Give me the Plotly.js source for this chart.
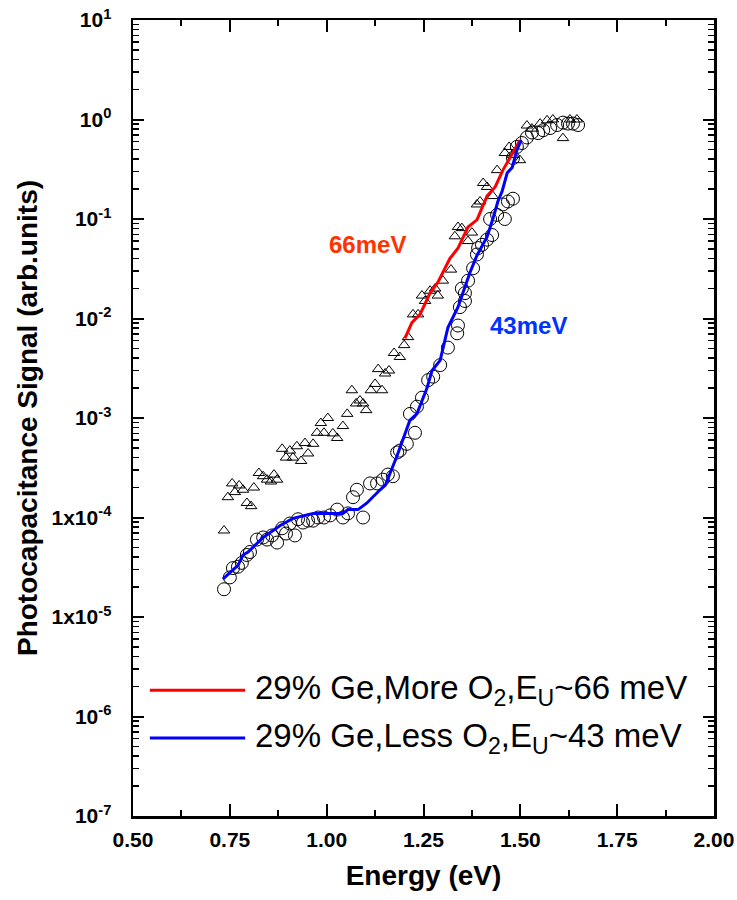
<!DOCTYPE html>
<html>
<head>
<meta charset="utf-8">
<script src="https://cdn.plot.ly/plotly-3.0.1.min.js"></script>
<style>html,body{margin:0;padding:0;background:#fff;}#chart{width:737px;height:900px;}</style>
</head>
<body>
<div id="chart"></div>
<script>
// More O2 sample (triangles)
const moreE = [0.735,0.745,0.756,0.763,0.774,0.784,0.794,0.805,0.812,0.825,0.836,0.846,0.856,0.864,0.872,0.885,0.895,0.905,0.913,0.923,0.934,0.944,0.952,0.965,0.975,0.985,0.993,1.003,1.016,1.027,1.042,1.053,1.065,1.076,1.086,1.094,1.102,1.114,1.125,1.133,1.143,1.151,1.161,1.174,1.189,1.200,1.210,1.223,1.236,1.246,1.254,1.267,1.280,1.287,1.300,1.321,1.331,1.339,1.349,1.365,1.375,1.388,1.396,1.404,1.414,1.429,1.440,1.460,1.471,1.481,1.499,1.517,1.530,1.551,1.569,1.584,1.610,1.628,1.646];
const moreV = [7.4e-5,1.6e-4,2.2e-4,1.8e-4,2.1e-4,1.9e-4,1.4e-4,1.3e-4,2.0e-4,2.8e-4,2.6e-4,2.4e-4,2.3e-4,2.7e-4,2.4e-4,4.9e-4,4.0e-4,4.7e-4,4.0e-4,5.2e-4,3.7e-4,5.6e-4,4.4e-4,5.5e-4,7.1e-4,8.9e-4,7.1e-4,1.0e-3,7.0e-4,6.3e-4,8.3e-4,1.1e-3,1.9e-3,1.4e-3,1.5e-3,1.4e-3,1.2e-3,1.9e-3,2.2e-3,3.1e-3,1.9e-3,2.8e-3,3.0e-3,4.5e-3,4.1e-3,5.4e-3,6.5e-3,1.1e-2,1.1e-2,1.7e-2,1.5e-2,1.9e-2,2.0e-2,1.7e-2,2.4e-2,3.1e-2,6.7e-2,8.3e-2,8.1e-2,6.0e-2,7.3e-2,1.4e-1,1.5e-1,2.3e-1,2.1e-1,1.7e-1,3.1e-1,4.6e-1,5.3e-1,4.4e-1,3.9e-1,8.7e-1,8.1e-1,9.1e-1,9.8e-1,1.0,6.5e-1,1.0,1.0];

// Less O2 sample (circles)
const lessE = [0.735,0.750,0.758,0.771,0.781,0.794,0.802,0.820,0.836,0.846,0.859,0.872,0.885,0.895,0.905,0.918,0.926,0.939,0.952,0.965,0.978,0.993,1.009,1.027,1.042,1.055,1.068,1.078,1.094,1.112,1.130,1.145,1.158,1.171,1.182,1.189,1.207,1.215,1.228,1.233,1.246,1.262,1.275,1.293,1.313,1.337,1.339,1.344,1.349,1.357,1.357,1.365,1.378,1.388,1.391,1.401,1.414,1.422,1.427,1.440,1.455,1.460,1.468,1.481,1.481,1.491,1.504,1.517,1.530,1.546,1.559,1.577,1.595,1.610,1.623,1.636,1.649];
const lessV = [1.9e-5,2.5e-5,3.1e-5,3.2e-5,3.5e-5,4.2e-5,4.5e-5,6.0e-5,6.3e-5,6.0e-5,6.6e-5,5.6e-5,7.8e-5,6.9e-5,8.7e-5,6.6e-5,9.6e-5,8.9e-5,9.3e-5,9.3e-5,1.0e-4,1.0e-4,1.05e-4,1.2e-4,1.0e-4,1.1e-4,1.6e-4,1.9e-4,1.0e-4,2.2e-4,2.2e-4,2.4e-4,2.7e-4,2.6e-4,4.5e-4,4.7e-4,5.5e-4,1.1e-3,7.1e-4,1.3e-3,1.6e-3,2.4e-3,2.6e-3,3.4e-3,5.1e-3,7.1e-3,8.5e-3,1.3e-2,2.0e-2,1.5e-2,1.8e-2,2.4e-2,3.2e-2,4.4e-2,5.1e-2,5.5e-2,6.2e-2,1.0e-1,6.9e-2,1.1e-1,1.4e-1,1.0e-1,1.5e-1,1.6e-1,4.1e-1,5.3e-1,5.8e-1,6.6e-1,7.4e-1,7.3e-1,7.8e-1,8.2e-1,8.8e-1,9.3e-1,9.1e-1,9.1e-1,8.8e-1];

// Fit curves
const redFitE = [1.202,1.220,1.241,1.267,1.287,1.318,1.339,1.365,1.388,1.414,1.435,1.455,1.473,1.499];
const redFitV = [6.3e-3,9.1e-3,1.1e-2,1.8e-2,2.3e-2,4.0e-2,5.1e-2,8.3e-2,9.8e-2,1.7e-1,2.1e-1,3.1e-1,4.1e-1,6.2e-1];
const blueFitE = [0.732,0.750,0.771,0.784,0.797,0.836,0.880,0.913,0.965,1.042,1.055,1.081,1.104,1.138,1.151,1.164,1.182,1.215,1.233,1.259,1.272,1.293,1.313,1.339,1.370,1.388,1.414,1.429,1.442,1.453,1.466,1.479,1.491,1.502];
const blueFitV = [2.4e-5,2.8e-5,3.3e-5,4.2e-5,4.5e-5,6.3e-5,8.3e-5,9.8e-5,1.1e-4,1.1e-4,1.2e-4,1.2e-4,1.4e-4,1.9e-4,2.1e-4,2.8e-4,4.2e-4,9.5e-4,1.1e-3,2.0e-3,3.0e-3,3.8e-3,8.1e-3,1.3e-2,2.9e-2,4.3e-2,6.6e-2,1.0e-1,1.5e-1,1.9e-1,2.9e-1,3.3e-1,4.9e-1,6.2e-1];

const yTickVals = [1e1,1e0,1e-1,1e-2,1e-3,1e-4,1e-5,1e-6,1e-7];
const yTickText = ['10<sup>1</sup>','10<sup>0</sup>','10<sup>-1</sup>','10<sup>-2</sup>','10<sup>-3</sup>','1x10<sup>-4</sup>','1x10<sup>-5</sup>','10<sup>-6</sup>','10<sup>-7</sup>'];
const legendNames = ['29% Ge,More O<sub>2</sub>,E<sub>U</sub>~66 meV','29% Ge,Less O<sub>2</sub>,E<sub>U</sub>~43 meV'];

const F = '"Liberation Sans", Arial, sans-serif';

const traces = [
  {x: moreE, y: moreV, mode:'markers', type:'scatter', showlegend:false,
   marker:{symbol:'triangle-up-open', size:10, color:'#000', line:{width:1, color:'#000'}}},
  {x: lessE, y: lessV, mode:'markers', type:'scatter', showlegend:false,
   marker:{symbol:'circle-open', size:13, color:'#000', line:{width:1, color:'#000'}}},
  {x: redFitE, y: redFitV, mode:'lines', type:'scatter', name: legendNames[0], showlegend:false,
   line:{color:'#FF0000', width:3}},
  {x: blueFitE, y: blueFitV, mode:'lines', type:'scatter', name: legendNames[1], showlegend:false,
   line:{color:'#0000FF', width:3}}
];

const layout = {
  width:737, height:900,
  margin:{l:133, r:23, t:20, b:84},
  paper_bgcolor:'#fff', plot_bgcolor:'#fff',
  font:{family:F, color:'#000'},
  showlegend:false,
  xaxis:{
    range:[0.5,2.0], dtick:0.25, tick0:0.5, tickformat:'.2f',
    ticks:'inside', ticklen:12, tickwidth:2, tickcolor:'#000',
    showline:true, linewidth:2.5, linecolor:'#000', mirror:'ticks',
    showgrid:false, zeroline:false,
    minor:{dtick:0.125, ticks:'inside', ticklen:6, tickwidth:2, tickcolor:'#000', showgrid:false},
    tickfont:{family:F, size:21, weight:'bold'},
    ticklabelstandoff:3,
    title:{text:'Energy (eV)', font:{family:F, size:28, weight:'bold'}, standoff:16}
  },
  yaxis:{
    type:'log', range:[-7,1],
    tickvals:yTickVals, ticktext:yTickText,
    ticks:'inside', ticklen:11, tickwidth:2, tickcolor:'#000',
    showline:true, linewidth:2.5, linecolor:'#000', mirror:'ticks',
    showgrid:false, zeroline:false,
    minor:{dtick:'D1', ticks:'inside', ticklen:6, tickwidth:1.5, tickcolor:'#000', showgrid:false},
    tickfont:{family:F, size:21, weight:'bold'},
    ticklabelstandoff:15,
    title:{text:'Photocapacitance Signal (arb.units)', font:{family:F, size:28, weight:'bold'}, standoff:6}
  },
  shapes:[
    {type:'line', xref:'paper', yref:'paper', x0:0.029, x1:0.193, y0:0.158, y1:0.158, line:{color:'#FF0000', width:3}},
    {type:'line', xref:'paper', yref:'paper', x0:0.029, x1:0.193, y0:0.098, y1:0.098, line:{color:'#0000FF', width:3}}
  ],
  annotations:[
    {x:1.105, y:Math.log10(0.055), xref:'x', yref:'y', text:'66meV', showarrow:false,
     font:{family:F, size:24, color:'#FF3300', weight:'bold'}},
    {x:1.52, y:Math.log10(0.0085), xref:'x', yref:'y', text:'43meV', showarrow:false,
     font:{family:F, size:24, color:'#0033FF', weight:'bold'}},
    {x:0.207, y:0.158, xref:'paper', yref:'paper', xanchor:'left', yanchor:'middle', text:legendNames[0], showarrow:false,
     font:{family:F, size:33, color:'#000'}},
    {x:0.207, y:0.098, xref:'paper', yref:'paper', xanchor:'left', yanchor:'middle', text:legendNames[1], showarrow:false,
     font:{family:F, size:33, color:'#000'}}
  ]
};

Plotly.newPlot('chart', traces, layout, {staticPlot:true, displayModeBar:false});
</script>
</body>
</html>
